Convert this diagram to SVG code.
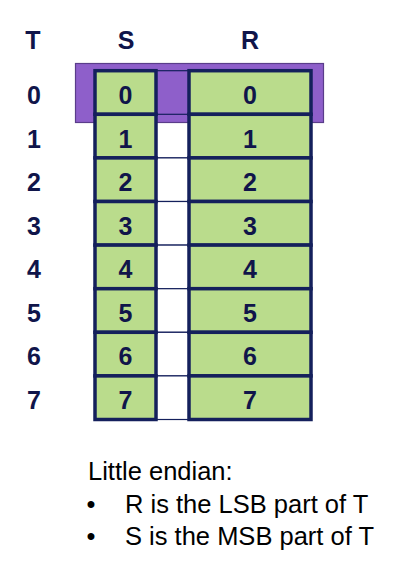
<svg xmlns="http://www.w3.org/2000/svg" width="410" height="580" viewBox="0 0 410 580">
<style>
.cell{fill:#badc8c;stroke:#14205c;stroke-width:3.5}
.gap{fill:#ffffff;stroke:#14205c;stroke-width:1.2}
.hd{font-family:"Liberation Sans",Arial,sans-serif;font-weight:bold;font-size:25px;fill:#10154a;text-anchor:middle}
.txt{font-family:"Liberation Sans",Arial,sans-serif;font-size:25.5px;fill:#000000}
</style>
<rect width="410" height="580" fill="#ffffff"/>
<g id="headers">
<text class="hd" x="33" y="48.5">T</text>
<text class="hd" x="126" y="48.5">S</text>
<text class="hd" x="250" y="48.5">R</text>
</g>
<g id="gaps">
<rect class="gap" x="156" y="114.3" width="33" height="43.6"/>
<rect class="gap" x="156" y="157.9" width="33" height="43.6"/>
<rect class="gap" x="156" y="201.5" width="33" height="43.6"/>
<rect class="gap" x="156" y="245.1" width="33" height="43.6"/>
<rect class="gap" x="156" y="288.7" width="33" height="43.6"/>
<rect class="gap" x="156" y="332.3" width="33" height="43.6"/>
<rect class="gap" x="156" y="375.9" width="33" height="43.6"/>
</g>
<g id="T0">
<rect x="75.5" y="63.5" width="248" height="59" fill="#8e5fca" stroke="#5a3d8a" stroke-width="1.2"/>
<rect x="156" y="70.7" width="33" height="43.6" fill="none" stroke="#14205c" stroke-width="1.2"/>
</g>
<g id="S">
<rect class="cell" x="95" y="70.7" width="61" height="43.6"/>
<rect class="cell" x="95" y="114.3" width="61" height="43.6"/>
<rect class="cell" x="95" y="157.9" width="61" height="43.6"/>
<rect class="cell" x="95" y="201.5" width="61" height="43.6"/>
<rect class="cell" x="95" y="245.1" width="61" height="43.6"/>
<rect class="cell" x="95" y="288.7" width="61" height="43.6"/>
<rect class="cell" x="95" y="332.3" width="61" height="43.6"/>
<rect class="cell" x="95" y="375.9" width="61" height="43.6"/>
<text class="hd" x="125.5" y="104.4">0</text>
<text class="hd" x="125.5" y="147.9">1</text>
<text class="hd" x="125.5" y="191.3">2</text>
<text class="hd" x="125.5" y="234.8">3</text>
<text class="hd" x="125.5" y="278.2">4</text>
<text class="hd" x="125.5" y="321.7">5</text>
<text class="hd" x="125.5" y="365.2">6</text>
<text class="hd" x="125.5" y="408.6">7</text>
</g>
<g id="R">
<rect class="cell" x="189" y="70.7" width="122" height="43.6"/>
<rect class="cell" x="189" y="114.3" width="122" height="43.6"/>
<rect class="cell" x="189" y="157.9" width="122" height="43.6"/>
<rect class="cell" x="189" y="201.5" width="122" height="43.6"/>
<rect class="cell" x="189" y="245.1" width="122" height="43.6"/>
<rect class="cell" x="189" y="288.7" width="122" height="43.6"/>
<rect class="cell" x="189" y="332.3" width="122" height="43.6"/>
<rect class="cell" x="189" y="375.9" width="122" height="43.6"/>
<text class="hd" x="250" y="104.4">0</text>
<text class="hd" x="250" y="147.9">1</text>
<text class="hd" x="250" y="191.3">2</text>
<text class="hd" x="250" y="234.8">3</text>
<text class="hd" x="250" y="278.2">4</text>
<text class="hd" x="250" y="321.7">5</text>
<text class="hd" x="250" y="365.2">6</text>
<text class="hd" x="250" y="408.6">7</text>
</g>
<g id="T">
<text class="hd" x="34" y="104.4">0</text>
<text class="hd" x="34" y="147.9">1</text>
<text class="hd" x="34" y="191.3">2</text>
<text class="hd" x="34" y="234.8">3</text>
<text class="hd" x="34" y="278.2">4</text>
<text class="hd" x="34" y="321.7">5</text>
<text class="hd" x="34" y="365.2">6</text>
<text class="hd" x="34" y="408.6">7</text>
</g>
<g id="notes">
<text class="txt" x="88" y="480">Little endian:</text>
<text class="txt" x="86.5" y="512.5">•</text>
<text class="txt" x="125" y="512.5">R is the LSB part of T</text>
<text class="txt" x="86.5" y="545">•</text>
<text class="txt" x="125" y="545">S is the MSB part of T</text>
</g>
</svg>
